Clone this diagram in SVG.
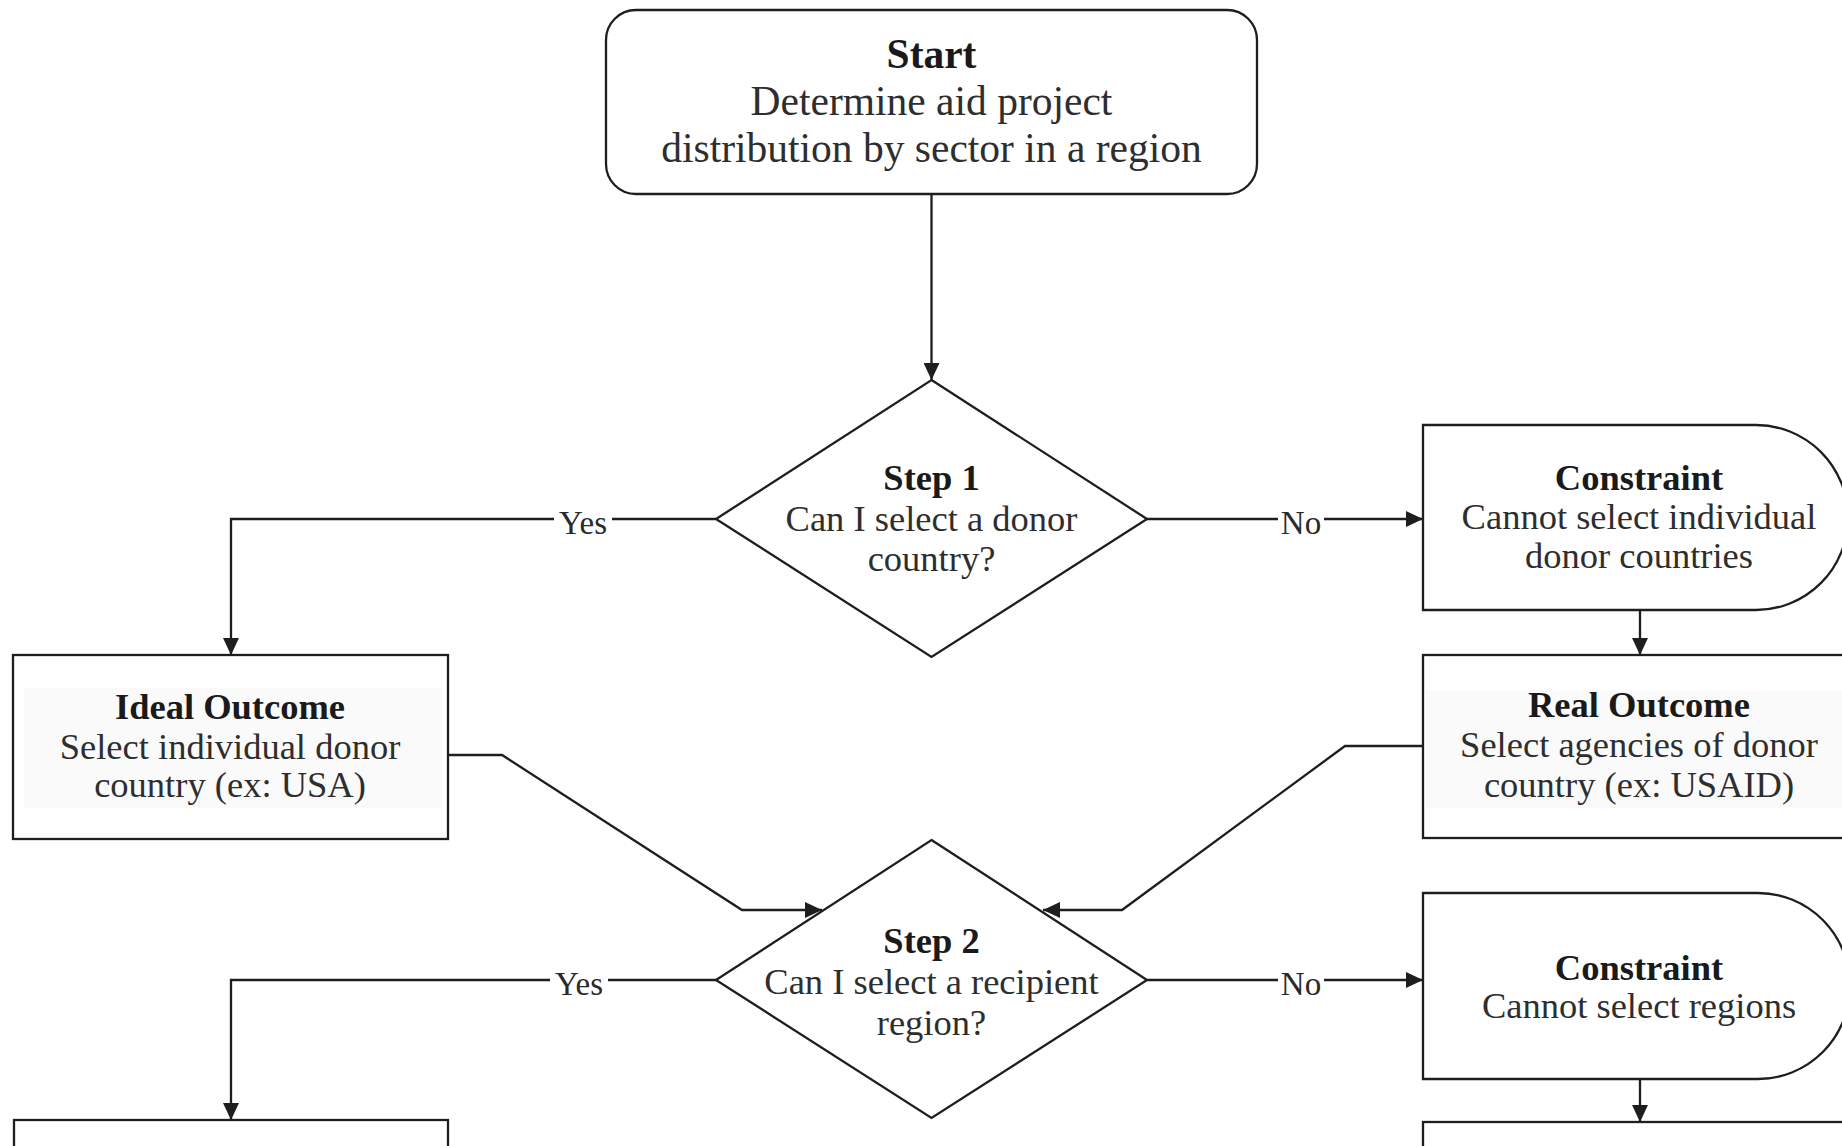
<svg xmlns="http://www.w3.org/2000/svg" width="1842" height="1146" viewBox="0 0 1842 1146">
<style>
.shape{fill:#ffffff;stroke:#1e1e1e;stroke-width:2.3}
.band{fill:#fafafa;stroke:none}
.edge{fill:none;stroke:#1e1e1e;stroke-width:2.3}
.t{font-family:"Liberation Serif","Times New Roman",serif;fill:#2e2e2e;text-anchor:middle}
.b{font-weight:bold;fill:#1a1a1a}
.s40{font-size:41.5px}
.s35{font-size:36.5px}
.lbl{font-family:"Liberation Serif","Times New Roman",serif;font-size:33px;fill:#2a2a2a;text-anchor:middle}
.lblbg{fill:#ffffff;stroke:none}
</style>
<defs>
<marker id="arr" markerUnits="userSpaceOnUse" markerWidth="18" markerHeight="16" refX="17" refY="8" orient="auto">
<path d="M0,0 L17,8 L0,16 Z" fill="#1e1e1e"/>
</marker>
</defs>
<rect width="1842" height="1146" fill="#ffffff"/>

<g id="connectors">
<path class="edge" d="M931.5,194 V380" marker-end="url(#arr)"/>
<path class="edge" d="M716,519 H231 V655" marker-end="url(#arr)"/>
<path class="edge" d="M1147,519 H1423" marker-end="url(#arr)"/>
<path class="edge" d="M1640,610 V655" marker-end="url(#arr)"/>
<path class="edge" d="M448,755 H502 L742,910 H822" marker-end="url(#arr)"/>
<path class="edge" d="M1423,746 H1345 L1122,910 H1043" marker-end="url(#arr)"/>
<path class="edge" d="M717,980 H231 V1120" marker-end="url(#arr)"/>
<path class="edge" d="M1147,980 H1423" marker-end="url(#arr)"/>
<path class="edge" d="M1640,1079 V1122" marker-end="url(#arr)"/>
<rect class="lblbg" x="554" y="504" width="58" height="34"/>
<text class="lbl" x="583" y="534">Yes</text>
<rect class="lblbg" x="1278" y="504" width="46" height="34"/>
<text class="lbl" x="1301" y="534">No</text>
<rect class="lblbg" x="550" y="965" width="58" height="34"/>
<text class="lbl" x="579" y="995">Yes</text>
<rect class="lblbg" x="1278" y="965" width="46" height="34"/>
<text class="lbl" x="1301" y="995">No</text>
</g>

<g id="start">
<rect class="shape" x="606" y="10" width="651" height="184" rx="30" ry="30"/>
<text class="t s40 b" x="931.5" y="68">Start</text>
<text class="t s40" x="931.5" y="115">Determine aid project</text>
<text class="t s40" x="931.5" y="162">distribution by sector in a region</text>
</g>

<g id="step1">
<polygon class="shape" points="931.5,380 1147,519 931.5,657 716,519"/>
<text class="t s35 b" x="931.5" y="490">Step 1</text>
<text class="t s35" x="931.5" y="531">Can I select a donor</text>
<text class="t s35" x="931.5" y="571">country?</text>
</g>

<g id="constraint1">
<path class="shape" d="M1423,425 H1756 A92,92.5 0 0 1 1756,610 H1423 Z"/>
<text class="t s35 b" x="1639" y="490">Constraint</text>
<text class="t s35" x="1639" y="529">Cannot select individual</text>
<text class="t s35" x="1639" y="568">donor countries</text>
</g>

<g id="ideal">
<rect class="shape" x="13" y="655" width="435" height="184"/>
<rect class="band" x="24" y="688" width="418" height="120"/>
<text class="t s35 b" x="230" y="719">Ideal Outcome</text>
<text class="t s35" x="230" y="759">Select individual donor</text>
<text class="t s35" x="230" y="797">country (ex: USA)</text>
</g>

<g id="real">
<rect class="shape" x="1423" y="655" width="430" height="183"/>
<rect class="band" x="1426" y="690" width="420" height="118"/>
<text class="t s35 b" x="1639" y="717">Real Outcome</text>
<text class="t s35" x="1639" y="757">Select agencies of donor</text>
<text class="t s35" x="1639" y="797">country (ex: USAID)</text>
</g>

<g id="step2">
<polygon class="shape" points="931.5,840 1147,980 931.5,1118 716,980"/>
<text class="t s35 b" x="931.5" y="953">Step 2</text>
<text class="t s35" x="931.5" y="994">Can I select a recipient</text>
<text class="t s35" x="931.5" y="1035">region?</text>
</g>

<g id="constraint2">
<path class="shape" d="M1423,893 H1758 A92,93 0 0 1 1758,1079 H1423 Z"/>
<text class="t s35 b" x="1639" y="980">Constraint</text>
<text class="t s35" x="1639" y="1018">Cannot select regions</text>
</g>

<g id="bottomLeft">
<rect class="shape" x="14" y="1120" width="434" height="60"/>
</g>

<g id="bottomRight">
<rect class="shape" x="1423" y="1122" width="430" height="60"/>
</g>
</svg>
